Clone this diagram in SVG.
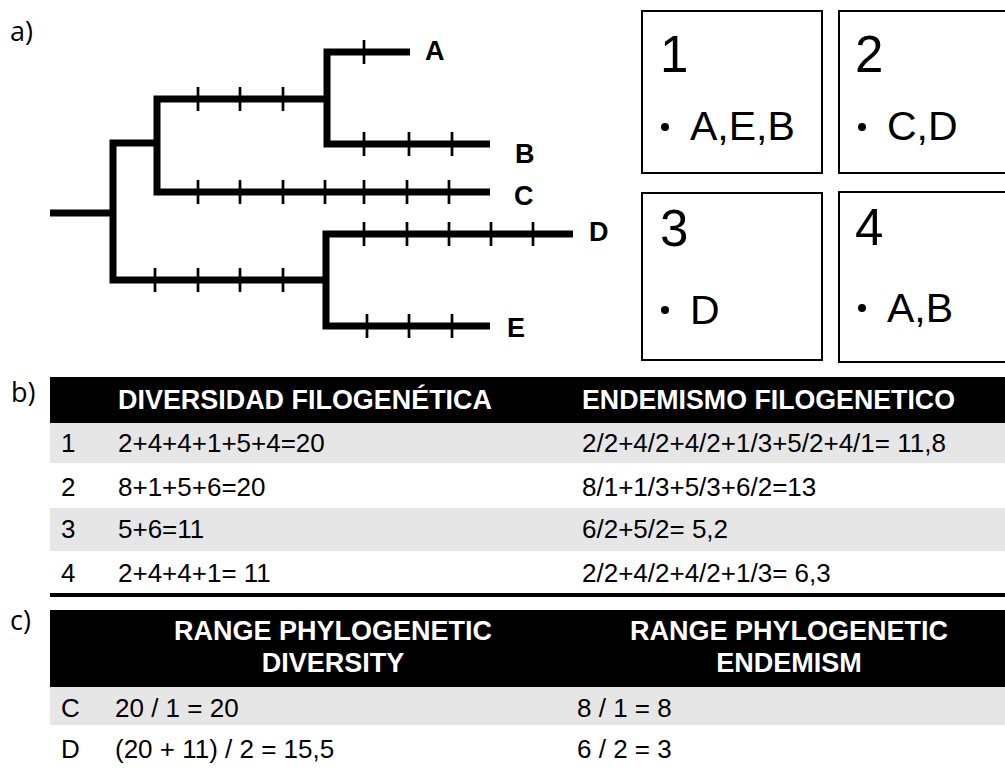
<svg xmlns="http://www.w3.org/2000/svg" width="1005" height="769" viewBox="0 0 1005 769">
<style>
.br{fill:none;stroke:#000;stroke-width:7;stroke-linejoin:miter;stroke-linecap:butt}
.tk{stroke:#000;stroke-width:2.7}
.lbl{font-family:"Liberation Sans",Arial,sans-serif;font-weight:bold;font-size:27px;fill:#000}
.sec{font-family:"Open Sans","Liberation Sans",sans-serif;font-size:27px;fill:#000}
.box{fill:#fff;stroke:#000;stroke-width:2}
.num{font-family:"Liberation Sans",Arial,sans-serif;font-size:51px;fill:#000}
.itm{font-family:"Liberation Sans",Arial,sans-serif;font-size:41px;fill:#000}
.hd{font-family:"Liberation Sans",Arial,sans-serif;font-weight:bold;font-size:27px;fill:#fff}
.td{font-family:"Liberation Sans",Arial,sans-serif;font-size:26px;fill:#000}
.gr{fill:#e6e6e6}
</style>
<text class="sec" x="10" y="41">a)</text>
<text class="sec" x="11" y="402">b)</text>
<text class="sec" x="10" y="630">c)</text>

<g id="connectors">
<path class="br" d="M50,213 H113"/>
<path class="br" d="M157,143 H113 V280 H326"/>
<path class="br" d="M327,99 H157 V192 H490"/>
<path class="br" d="M410,52 H327 V144 H490"/>
<path class="br" d="M573,234 H326 V326 H490"/>
<g class="tk">
<path d="M198,87V111M240,87V111M283,87V111"/>
<path d="M364,40V64"/>
<path d="M364,132V156M409,132V156M452,132V156"/>
<path d="M198,180V204M240,180V204M283,180V204M325,180V204M364,180V204M407,180V204M449,180V204"/>
<path d="M155,268V292M198,268V292M240,268V292M283,268V292"/>
<path d="M364,222V246M407,222V246M449,222V246M491,222V246M533,222V246"/>
<path d="M367,314V338M409,314V338M452,314V338"/>
</g>
</g>
<g id="leafA"><text class="lbl" x="425" y="60">A</text></g>
<g id="leafB"><text class="lbl" x="515" y="163">B</text></g>
<g id="leafC"><text class="lbl" x="514" y="205">C</text></g>
<g id="leafD"><text class="lbl" x="589" y="241">D</text></g>
<g id="leafE"><text class="lbl" x="507" y="337">E</text></g>

<g id="box1"><rect class="box" x="642" y="11" width="180" height="162"/><text class="num" x="660" y="72">1</text><circle cx="665" cy="127" r="4"/><text class="itm" x="690" y="140">A,E,B</text></g>
<g id="box2"><rect class="box" x="839" y="11" width="180" height="162"/><text class="num" x="855" y="72">2</text><circle cx="862" cy="127" r="4"/><text class="itm" x="887" y="140">C,D</text></g>
<g id="box3"><rect class="box" x="642" y="193" width="180" height="167"/><text class="num" x="660" y="246">3</text><circle cx="665" cy="310" r="4"/><text class="itm" x="690" y="324">D</text></g>
<g id="box4"><rect class="box" x="839" y="192" width="180" height="170"/><text class="num" x="855" y="245">4</text><circle cx="862" cy="308" r="4"/><text class="itm" x="887" y="322">A,B</text></g>

<g id="tableB">
<rect x="50" y="377" width="955" height="46" fill="#000"/>
<rect class="gr" x="50" y="423" width="955" height="40"/>
<rect class="gr" x="50" y="508" width="955" height="43"/>
<text class="hd" x="118" y="409" textLength="374" lengthAdjust="spacingAndGlyphs">DIVERSIDAD FILOGENÉTICA</text>
<text class="hd" x="582" y="409" textLength="373" lengthAdjust="spacingAndGlyphs">ENDEMISMO FILOGENETICO</text>
<text class="td" x="61" y="452">1</text><text class="td" x="118" y="452">2+4+4+1+5+4=20</text><text class="td" x="582" y="452">2/2+4/2+4/2+1/3+5/2+4/1= 11,8</text>
<text class="td" x="61" y="496">2</text><text class="td" x="118" y="496">8+1+5+6=20</text><text class="td" x="582" y="496">8/1+1/3+5/3+6/2=13</text>
<text class="td" x="61" y="538">3</text><text class="td" x="118" y="538">5+6=11</text><text class="td" x="582" y="538">6/2+5/2= 5,2</text>
<text class="td" x="61" y="582">4</text><text class="td" x="118" y="582">2+4+4+1= 11</text><text class="td" x="582" y="582">2/2+4/2+4/2+1/3= 6,3</text>
<rect x="50" y="593" width="955" height="4" fill="#000"/>
</g>

<g id="tableC">
<rect x="50" y="610" width="955" height="77" fill="#000"/>
<rect class="gr" x="50" y="687" width="955" height="38"/>
<text class="hd" x="333" y="640" text-anchor="middle">RANGE PHYLOGENETIC</text>
<text class="hd" x="333" y="672" text-anchor="middle">DIVERSITY</text>
<text class="hd" x="789" y="640" text-anchor="middle">RANGE PHYLOGENETIC</text>
<text class="hd" x="789" y="672" text-anchor="middle">ENDEMISM</text>
<text class="td" x="61" y="717">C</text><text class="td" x="115" y="717">20 / 1 = 20</text><text class="td" x="577" y="717">8 / 1 = 8</text>
<text class="td" x="61" y="758">D</text><text class="td" x="115" y="758">(20 + 11) / 2 = 15,5</text><text class="td" x="577" y="758">6 / 2 = 3</text>
</g>
</svg>
